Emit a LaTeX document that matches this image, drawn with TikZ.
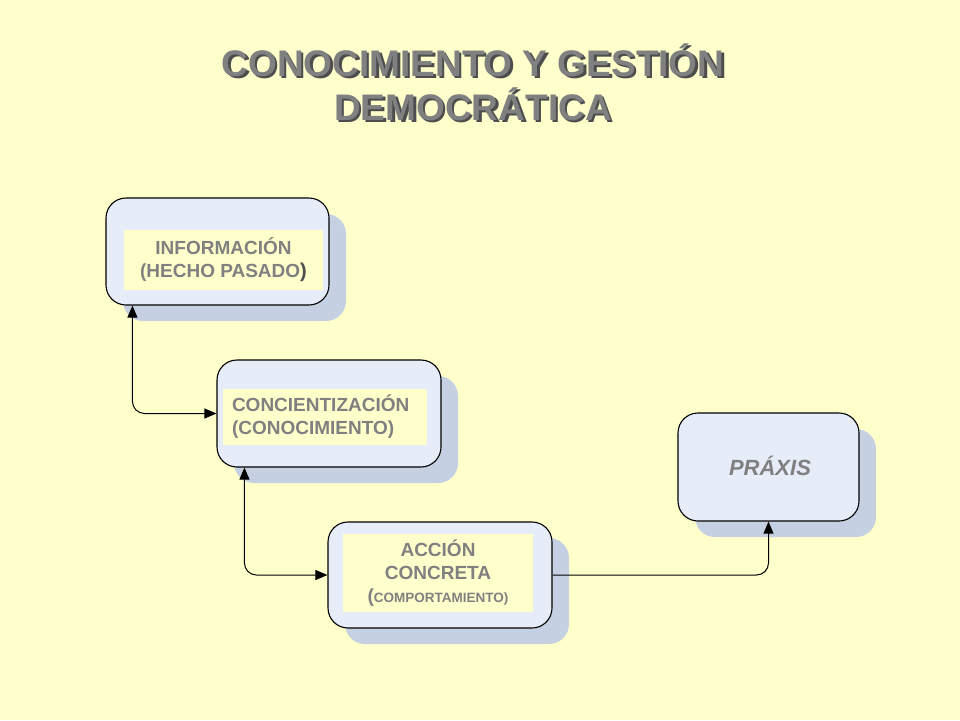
\documentclass[tikz,border=0pt]{standalone}
\usepackage{fontspec}
\setmainfont{Liberation Sans}
\usetikzlibrary{arrows.meta,shadows}
\definecolor{bgyellow}{HTML}{FFFFCC}
\definecolor{boxblue}{HTML}{E6ECF8}
\definecolor{shadeblue}{HTML}{C5D1E3}
\definecolor{txtgray}{HTML}{808080}
\definecolor{titleshade}{HTML}{4D4D4D}
\begin{document}
\begin{tikzpicture}[x=1pt,y=-1pt,>={Triangle[length=12pt,width=10pt]},
	box/.style={draw=black,line width=1.1pt,fill=boxblue,rounded corners=20pt,
		drop shadow={shadow xshift=17pt,shadow yshift=-16pt,fill=shadeblue,opacity=1}},
	boxtext/.style={fill=bgyellow,text=txtgray,inner sep=0pt,align=center,
		font=\bfseries\fontsize{19}{23}\selectfont},
	titletext/.style={anchor=base,font=\bfseries\fontsize{37}{44}\selectfont},
	link/.style={line width=1pt,rounded corners=12pt}]
	\fill[bgyellow] (0,0) rectangle (960,720);
	\useasboundingbox (0,0) rectangle (960,720);
	\node[titletext,text=titleshade] (titleshadeA) at (475.5,78.5) {CONOCIMIENTO Y GESTIÓN};
	\node[titletext,text=txtgray] (titleA) at (473,76) {CONOCIMIENTO Y GESTIÓN};
	\node[titletext,text=titleshade] (titleshadeB) at (475.5,122.5) {DEMOCRÁTICA};
	\node[titletext,text=txtgray] (titleB) at (473,120) {DEMOCRÁTICA};
	\node[box,minimum width=223pt,minimum height=107pt] (info) at (217.5,251.5) {};
	\node[boxtext,minimum width=199pt,minimum height=60pt] (infotext) at (223.5,260)
		{INFORMACIÓN\\(HECHO PASADO{\fontsize{20}{23}\selectfont\color{titleshade})}};
	\node[box,minimum width=224pt,minimum height=107pt] (conc) at (329,413.5) {};
	\node[boxtext,minimum width=204pt,minimum height=56pt,text width=186pt,align=left] (conctext) at (325,417)
		{CONCIENTIZACIÓN\\(CONOCIMIENTO)};
	\node[box,minimum width=224pt,minimum height=106pt] (acc) at (440,575) {};
	\node[boxtext,minimum width=190pt,minimum height=78pt] (acctext) at (438,573)
		{ACCIÓN\\CONCRETA\\({\fontsize{13.5}{23}\selectfont COMPORTAMIENTO)}};
	\node[box,minimum width=181pt,minimum height=108pt] (prax) at (768.5,467) {};
	\node[text=txtgray,font=\bfseries\itshape\fontsize{22}{24}\selectfont] (praxtext) at (770,466) {PRÁXIS};
	\draw[link,<->] ([xshift=27pt]info.south west) |- (conc.west);
	\draw[link,<->] ([xshift=28pt]conc.south west) |- (acc.west);
	\draw[link,->] (acc.east) -| (prax.south);
\end{tikzpicture}
\end{document}
